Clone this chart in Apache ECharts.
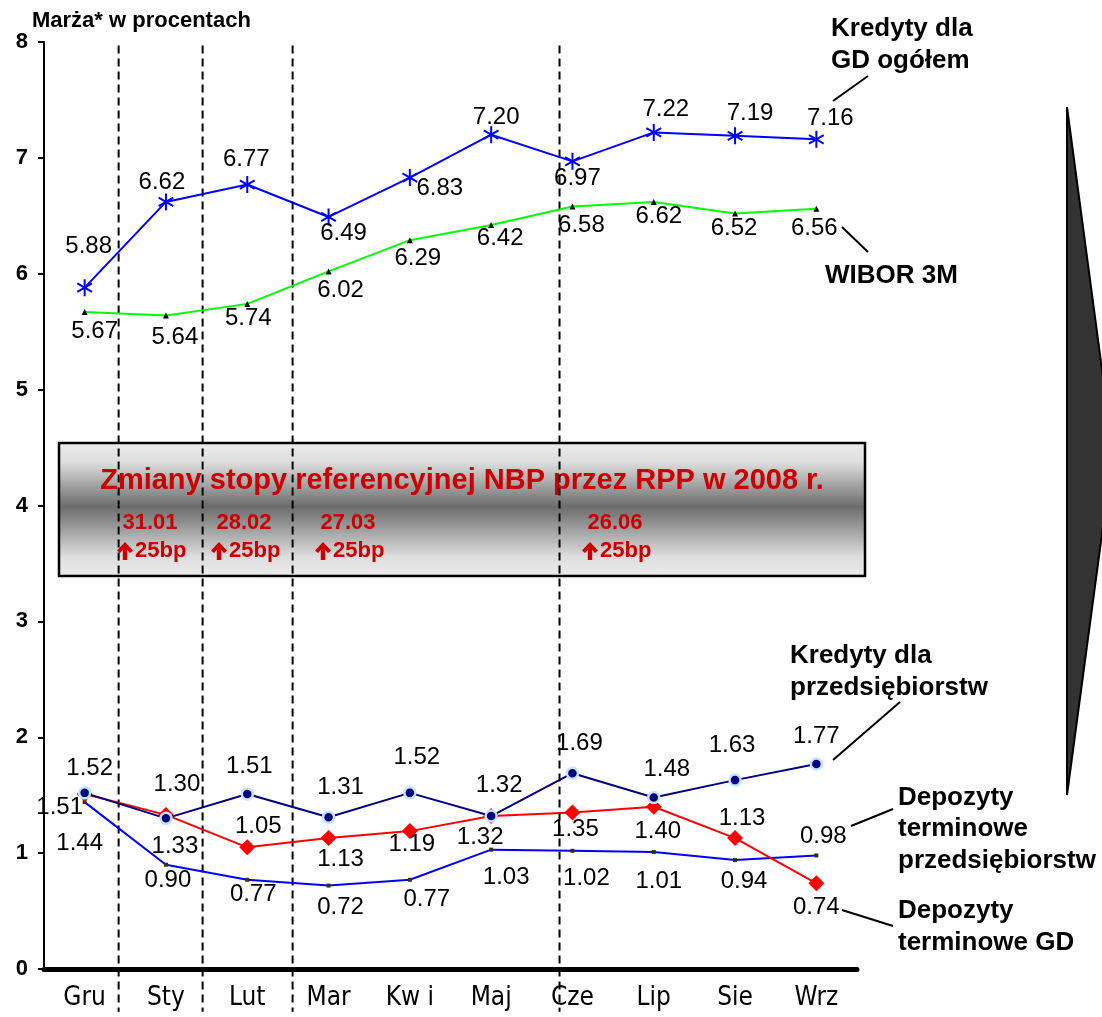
<!DOCTYPE html>
<html><head><meta charset="utf-8">
<script src="https://cdn.jsdelivr.net/npm/echarts@6/dist/echarts.min.js"></script>
<style>html,body{margin:0;padding:0;background:#fff}#c{width:1102px;height:1017px}</style>
</head><body><div id="c"></div>
<script>
// ---- data ----
const months = ['Gru', 'Sty', 'Lut', 'Mar', 'Kw i', 'Maj', 'Cze', 'Lip', 'Sie', 'Wrz'];
const yTicks = [0, 1, 2, 3, 4, 5, 6, 7, 8];
const kredytyGD = [5.88, 6.62, 6.77, 6.49, 6.83, 7.20, 6.97, 7.22, 7.19, 7.16];
const wibor3M = [5.67, 5.64, 5.74, 6.02, 6.29, 6.42, 6.58, 6.62, 6.52, 6.56];
const kredytyPrzeds = [1.52, 1.30, 1.51, 1.31, 1.52, 1.32, 1.69, 1.48, 1.63, 1.77];
const depozytyGD = [1.51, 1.33, 1.05, 1.13, 1.19, 1.32, 1.35, 1.40, 1.13, 0.74];
const depozytyPrzeds = [1.44, 0.90, 0.77, 0.72, 0.77, 1.03, 1.02, 1.01, 0.94, 0.98];
// rate-change dates and their position on the month scale (index units)
const rateDates = ['31.01', '28.02', '27.03', '26.06'];
const rateStep = ['25bp', '25bp', '25bp', '25bp'];
const rateChangeX = [0.418, 1.451, 2.558, 5.841];

// ---- label placement (pixel offsets from each point) ----
const gdOff = [[4,-41],[-4,-20],[-1,-25],[15,16],[30,11],[5,-17],[5,17],[12,-23],[15,-22],[14,-21]];
const wiborOff = [[10,19],[9,22],[1,14],[12,19],[8,18],[9,13],[9,19],[5,14],[-1,15],[-2,20]];
const kpOff = [[5,-24],[11,-34],[2,-28],[12,-30],[7,-35],[8,-31],[7,-30],[13,-28],[-3,-35],[0,-28]];
const dgdOff = [[-25,13],[9,31],[11,-21],[12,21],[2,13],[-11,21],[3,17],[4,25],[7,-20],[0,24]];
const dpOff = [[-5,41],[2,16],[6,15],[12,22],[17,20],[15,28],[14,28],[5,29],[9,21],[7,-19]];

const FONT = "'Liberation Sans', Arial, sans-serif";
const labelStyle = {show: true, position: 'inside', fontFamily: FONT, fontSize: 24, color: '#000',
  formatter: p => Number(p.value).toFixed(2)};
function pts(vals, offs) {
  return vals.map((v, i) => ({value: v, label: {offset: offs[i]}}));
}

const chart = echarts.init(document.getElementById('c'), null, {renderer: 'canvas'});

const series = [];
rateChangeX.forEach(x => {
  series.push({type: 'line', xAxisIndex: 1, yAxisIndex: 0, data: [[x, 7.97], [x, -0.37]],
    symbol: 'none', clip: false, silent: true, z: 1, animation: false,
    lineStyle: {color: '#000', width: 2, type: [8, 5]}});
});
series.push({name: 'WIBOR 3M', type: 'line', data: pts(wibor3M, wiborOff),
  symbol: 'triangle', symbolSize: 6, lineStyle: {color: '#00ff00', width: 2},
  itemStyle: {color: '#000'}, label: labelStyle, z: 3});
series.push({name: 'Kredyty dla GD ogółem', type: 'line', data: pts(kredytyGD, gdOff),
  symbol: 'path://M0,-10L0,10M-8.66,-5L8.66,5M-8.66,5L8.66,-5', symbolKeepAspect: true, symbolSize: 17,
  lineStyle: {color: '#0000ff', width: 2},
  itemStyle: {color: '#0000ff', borderColor: '#0000ff', borderWidth: 2}, label: labelStyle, z: 3});
series.push({name: 'Depozyty terminowe przedsiębiorstw', type: 'line', data: pts(depozytyPrzeds, dpOff),
  symbol: 'rect', symbolSize: 4, lineStyle: {color: '#0000ff', width: 2},
  itemStyle: {color: '#333300'}, label: labelStyle, z: 3});
series.push({name: 'Depozyty terminowe GD', type: 'line', data: pts(depozytyGD, dgdOff),
  symbol: 'diamond', symbolSize: 16, lineStyle: {color: '#ff0000', width: 2},
  itemStyle: {color: '#ff0000'}, label: labelStyle, z: 4});
series.push({name: 'Kredyty dla przedsiębiorstw', type: 'line', data: pts(kredytyPrzeds, kpOff),
  symbol: 'circle', symbolSize: 11, lineStyle: {color: '#000080', width: 2},
  itemStyle: {color: '#000080', borderColor: '#c4e4fa', borderWidth: 2.5}, label: labelStyle, z: 5});

const red = '#cc0000';
const boldText = (x, y, text, size, color, align, lh) => ({
  type: 'text', x: x, y: y, silent: true,
  style: {text: text, fill: color || '#000', font: `bold ${size}px ${FONT}`,
    textAlign: align || 'left', textVerticalAlign: 'middle', lineHeight: lh || size}
});
const leader = (x1, y1, x2, y2) => ({type: 'line', silent: true,
  shape: {x1: x1, y1: y1, x2: x2, y2: y2}, style: {stroke: '#000', lineWidth: 2}});
const upArrow = (cx, top, bottom) => ({type: 'polygon', silent: true,
  shape: {points: [[cx, top], [cx + 8, top + 8.5], [cx + 5, top + 11], [cx + 2.2, top + 8], [cx + 2.2, bottom],
    [cx - 2.2, bottom], [cx - 2.2, top + 8], [cx - 5, top + 11], [cx - 8, top + 8.5]]},
  style: {fill: red}});

const graphics = [
  {type: 'rect', silent: true, z: -10, shape: {x: 59, y: 443, width: 806, height: 133},
    style: {fill: new echarts.graphic.LinearGradient(0, 0, 0, 1, [
      {offset: 0, color: '#ececec'}, {offset: 0.15, color: '#dedede'},
      {offset: 0.48, color: '#6c6c6c'}, {offset: 0.85, color: '#dedede'}, {offset: 1, color: '#ececec'}]),
      stroke: '#000', lineWidth: 2.5}},
  boldText(462, 481, 'Zmiany stopy referencyjnej NBP przez RPP w 2008 r.', 29, red, 'center'),
  {type: 'polygon', silent: true, shape: {points: [[1067, 107], [1113, 452], [1067, 795]]},
    style: {fill: '#333333', stroke: '#000', lineWidth: 2}},
  boldText(831, 45, 'Kredyty dla\nGD ogółem', 26, '#000', 'left', 32),
  boldText(825, 276, 'WIBOR 3M', 26, '#000', 'left'),
  boldText(790, 672, 'Kredyty dla\nprzedsiębiorstw', 26, '#000', 'left', 32),
  boldText(898, 829, 'Depozyty\nterminowe\nprzedsiębiorstw', 26, '#000', 'left', 31.5),
  boldText(898, 927, 'Depozyty\nterminowe GD', 26, '#000', 'left', 32),
  leader(833, 101, 868, 76),
  leader(842, 227, 868, 252),
  leader(833, 760, 900, 702),
  leader(851, 826, 893, 809),
  leader(842, 910, 893, 926)
];
const dateCenters = [150, 244, 348, 615];
rateDates.forEach((d, i) => {
  const c = dateCenters[i];
  graphics.push(boldText(c, 523, d, 22, red, 'center'));
  graphics.push(upArrow(c - 25, 542, 560));
  graphics.push(boldText(c - 15, 551, rateStep[i], 22, red, 'left'));
});

chart.setOption({
  animation: false,
  backgroundColor: '#fff',
  title: {text: 'Marża* w procentach', left: 32, top: 10, padding: 0,
    textStyle: {fontFamily: FONT, fontWeight: 'bold', fontSize: 22, color: '#000'}},
  grid: {left: 44, right: 245, top: 42, bottom: 48, containLabel: false},
  xAxis: [
    {type: 'category', data: months, boundaryGap: true,
      axisLine: {lineStyle: {color: '#000', width: 5}}, axisTick: {show: false},
      axisLabel: {fontFamily: "'Liberation Sans Narrow', 'DejaVu Sans Condensed', 'Arial Narrow', sans-serif",
        fontSize: 26, color: '#000', margin: 16}},
    {type: 'value', min: -0.5, max: 9.5, show: false}
  ],
  yAxis: {type: 'value', min: yTicks[0], max: yTicks[yTicks.length - 1], interval: yTicks[1] - yTicks[0],
    axisLine: {show: true, onZero: false, lineStyle: {color: '#000', width: 2}},
    axisTick: {show: true, length: 6, lineStyle: {color: '#000', width: 2}},
    splitLine: {show: false},
    axisLabel: {fontFamily: FONT, fontWeight: 'bold', fontSize: 22, color: '#000', margin: 16}},
  series: series,
  graphic: graphics
});
</script></body></html>
